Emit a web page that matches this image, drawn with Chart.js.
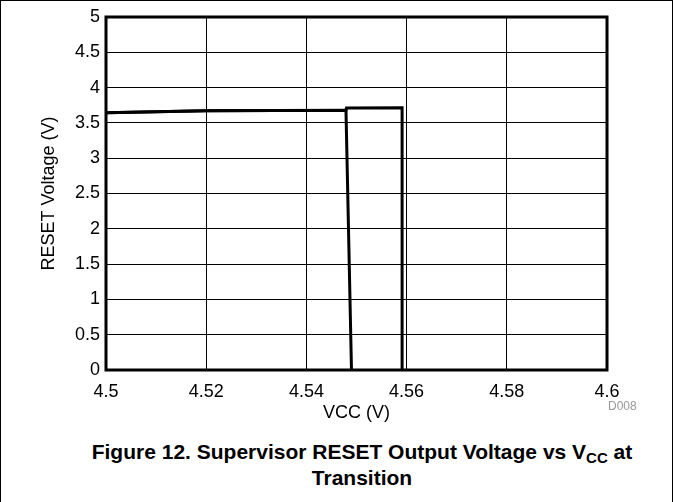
<!DOCTYPE html>
<html>
<head>
<meta charset="utf-8">
<script src="https://cdn.jsdelivr.net/npm/chart.js@4/dist/chart.umd.min.js"></script>
<style>
  html, body { margin: 0; padding: 0; background: #fff; }
  body { width: 673px; height: 502px; position: relative; overflow: hidden; font-family: "Liberation Sans", Arial, sans-serif; }
  #frame { position: absolute; left: 0; top: 0; width: 671px; height: 520px; border: 1px solid #000; }
  #wrap { position: absolute; left: 0; top: 0; width: 673px; height: 425px; }
  #code { position: absolute; left: 608px; top: 399px; font-size: 12px; color: #999; }
  #caption { position: absolute; left: 24px; width: 676px; top: 439px; text-align: center; font-weight: bold; font-size: 21px; line-height: 26px; color: #000; }
  #caption sub { font-size: 15px; vertical-align: -4px; line-height: 0; }
</style>
</head>
<body>
<div id="frame"></div>
<div id="wrap"><canvas id="myChart" width="673" height="425"></canvas></div>
<div id="code">D008</div>
<div id="caption">Figure 12. Supervisor RESET Output Voltage vs V<sub>CC</sub> at<br>Transition</div>
<script>
const xTicks = [4.5, 4.52, 4.54, 4.56, 4.58, 4.6];
const yTicks = [0, 0.5, 1, 1.5, 2, 2.5, 3, 3.5, 4, 4.5, 5];

// sweep that trips at the higher Vcc
const sweepHighVcc = [4.5, 4.52, 4.5479, 4.548, 4.5591, 4.5591];
const sweepHighV = [3.643, 3.673, 3.68, 3.712, 3.714, 0];
// sweep that trips at the lower Vcc
const sweepLowVcc = [4.5, 4.52, 4.5479, 4.549];
const sweepLowV = [3.643, 3.673, 3.68, 0];

function toPoints(xs, ys) {
  return xs.map((x, i) => ({ x: x, y: ys[i] }));
}

const frameBox = {
  id: "frameBox",
  afterDatasetsDraw(chart) {
    const a = chart.chartArea;
    const ctx = chart.ctx;
    ctx.save();
    ctx.strokeStyle = "#000";
    ctx.lineWidth = 3;
    ctx.strokeRect(a.left, a.top, a.right - a.left, a.bottom - a.top);
    ctx.restore();
  }
};

const fontTicks = { family: "'Liberation Sans', Arial, sans-serif", size: 18 };

new Chart(document.getElementById("myChart").getContext("2d"), {
  type: "scatter",
  data: {
    datasets: [
      {
        data: toPoints(sweepHighVcc, sweepHighV),
        showLine: true,
        borderColor: "#000",
        borderWidth: 3,
        pointRadius: 0,
        tension: 0
      },
      {
        data: toPoints(sweepLowVcc, sweepLowV),
        showLine: true,
        borderColor: "#000",
        borderWidth: 3,
        pointRadius: 0,
        tension: 0
      }
    ]
  },
  options: {
    responsive: false,
    animation: false,
    layout: { padding: { left: 30, top: 17, right: 66, bottom: 0 } },
    plugins: { legend: { display: false }, tooltip: { enabled: false } },
    scales: {
      x: {
        type: "linear",
        min: 4.5,
        max: 4.6,
        afterBuildTicks: (s) => { s.ticks = xTicks.map(v => ({ value: v })); },
        afterFit: (s) => { s.height = 55; },
        ticks: {
          color: "#000",
          font: fontTicks,
          padding: 11,
          maxRotation: 0,
          callback: (v) => String(Number(v.toFixed(2)))
        },
        grid: { color: "#000", lineWidth: 1, drawTicks: false },
        border: { display: false },
        title: { display: true, text: "VCC (V)", color: "#000", font: fontTicks, padding: { top: 0, bottom: 1 } }
      },
      y: {
        type: "linear",
        min: 0,
        max: 5,
        afterBuildTicks: (s) => { s.ticks = yTicks.map(v => ({ value: v })); },
        afterFit: (s) => { s.width = 76; },
        ticks: {
          color: "#000",
          font: fontTicks,
          padding: 6,
          callback: (v) => String(v)
        },
        grid: { color: "#000", lineWidth: 1, drawTicks: false },
        border: { display: false },
        title: { display: true, text: "RESET Voltage (V)", color: "#000", font: fontTicks, padding: { top: 8 } }
      }
    }
  },
  plugins: [frameBox]
});
</script>
</body>
</html>
